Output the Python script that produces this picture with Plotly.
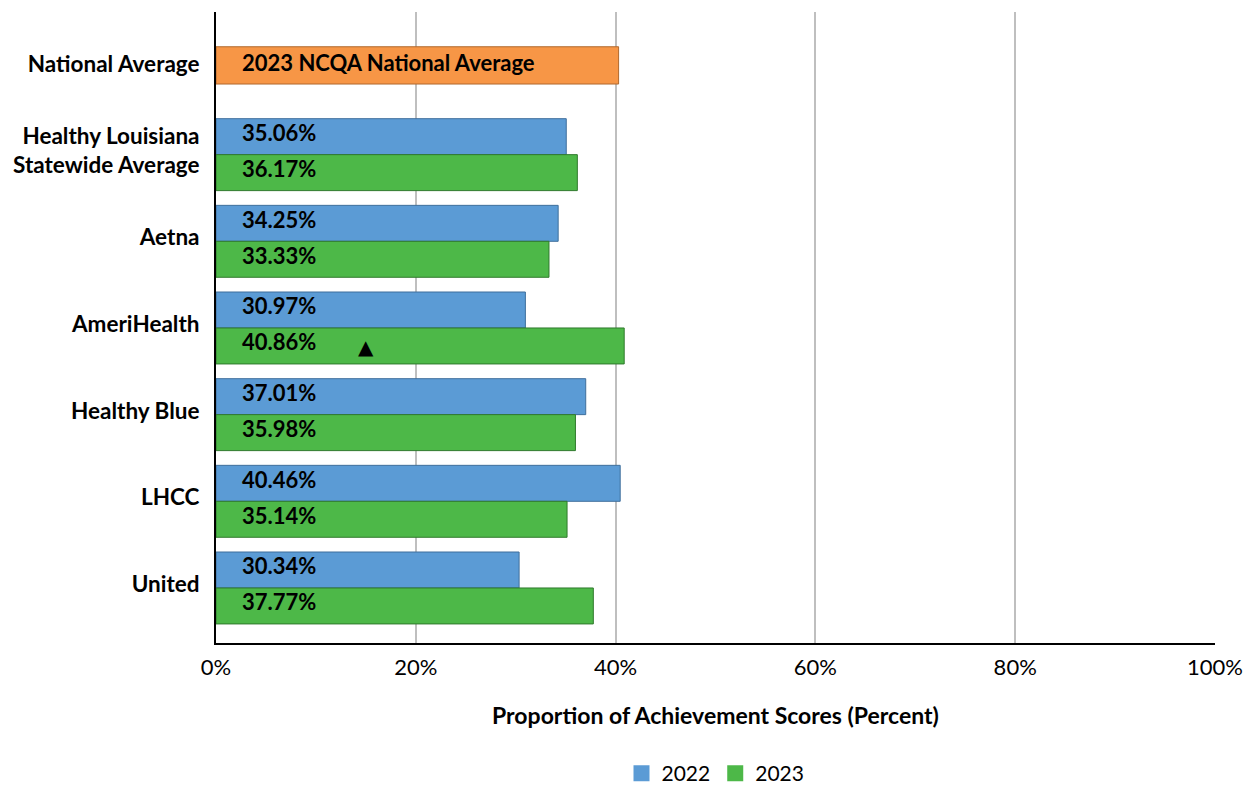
import plotly.graph_objects as go

categories = ["National Average", "Healthy Louisiana<br>Statewide Average", "Aetna",
              "AmeriHealth", "Healthy Blue", "LHCC", "United"]
plans = categories[1:]
values_2022 = [35.06, 34.25, 30.97, 37.01, 40.46, 30.34]
values_2023 = [36.17, 33.33, 40.86, 35.98, 35.14, 37.77]
national_label = "2023 NCQA National Average"
national_value = 40.3
x_ticks = [0, 20, 40, 60, 80, 100]
x_tick_labels = ["0%", "20%", "40%", "60%", "80%", "100%"]
flag_plan = "AmeriHealth"
flag_value = 15

FONT = "Lato"
BW = 0.415
BLUE = "#5B9BD5"
GREEN = "#4DB848"

fig = go.Figure()
fig.add_trace(go.Bar(
    y=[categories[0]], x=[national_value], orientation="h", name="National",
    width=0.43, offset=-0.245, showlegend=False,
    marker=dict(color="#F79646", line=dict(color="#B0692E", width=1)),
    hoverinfo="skip"))
fig.add_trace(go.Bar(
    y=plans, x=values_2022, orientation="h", name="2022", showlegend=False,
    width=BW, offset=-BW,
    marker=dict(color=BLUE, line=dict(color="#3F6F9C", width=1))))
fig.add_trace(go.Bar(
    y=plans, x=values_2023, orientation="h", name="2023", showlegend=False,
    width=BW, offset=0,
    marker=dict(color=GREEN, line=dict(color="#2F7A2C", width=1))))
# legend entries with larger square swatches
for nm, col in [("2022", BLUE), ("2023", GREEN)]:
    fig.add_trace(go.Scatter(x=[None], y=[None], mode="markers", name=nm,
                             marker=dict(symbol="square", size=18, color=col)))

ann = []
lab_font = dict(family=FONT, size=22, color="black")
ann.append(dict(x=2.4, y=categories[0], xref="x", yref="y", text="<b>%s</b>" % national_label,
                showarrow=False, xanchor="left", yanchor="middle", font=lab_font, yshift=5))
for p, v in zip(plans, values_2022):
    ann.append(dict(x=2.4, y=p, xref="x", yref="y", text="<b>%.2f%%</b>" % v,
                    showarrow=False, xanchor="left", yanchor="middle", font=lab_font, yshift=22))
for p, v in zip(plans, values_2023):
    ann.append(dict(x=2.4, y=p, xref="x", yref="y", text="<b>%.2f%%</b>" % v,
                    showarrow=False, xanchor="left", yanchor="middle", font=lab_font, yshift=-14))
ann.append(dict(x=flag_value, y=flag_plan, xref="x", yref="y", text="▲",
                showarrow=False, xanchor="center", yanchor="middle",
                font=dict(family="DejaVu Sans", size=20, color="black"), yshift=-19))

fig.update_layout(
    width=1251, height=787,
    margin=dict(l=216, r=36, t=12, b=144, autoexpand=False),
    barmode="overlay",
    plot_bgcolor="white", paper_bgcolor="white",
    font=dict(family=FONT, size=22, color="black"),
    annotations=ann,
    legend=dict(orientation="h", x=0.5, xanchor="center", y=-0.207, yanchor="middle",
                font=dict(family=FONT, size=21, color="black"),
                traceorder="normal"),
    xaxis=dict(range=[0, 100], tickvals=x_ticks, ticktext=x_tick_labels,
               showgrid=True, gridcolor="#BFBFBF", gridwidth=2,
               showline=True, linecolor="black", linewidth=2,
               zeroline=False, ticks="", ticklen=0, ticklabelstandoff=4, automargin=False,
               tickfont=dict(family=FONT, size=22, color="black"),
               title=dict(text="<b>Proportion of Achievement Scores (Percent)</b>",
                          font=dict(family=FONT, size=23, color="black"), standoff=28)),
    yaxis=dict(type="category", categoryorder="array", categoryarray=categories,
               range=[6.635, -0.646], showgrid=False, automargin=False,
               showline=True, linecolor="black", linewidth=2, ticks="", ticklabelstandoff=10,
               ticklabelshift=4,
               tickfont=dict(family=FONT, size=22.5, color="black"),
               tickvals=categories, ticktext=["<b>%s</b>" % c for c in categories]),
)

fig.write_html("out.html", config={"displayModeBar": False},
               post_script="document.body.style.margin='0';")
